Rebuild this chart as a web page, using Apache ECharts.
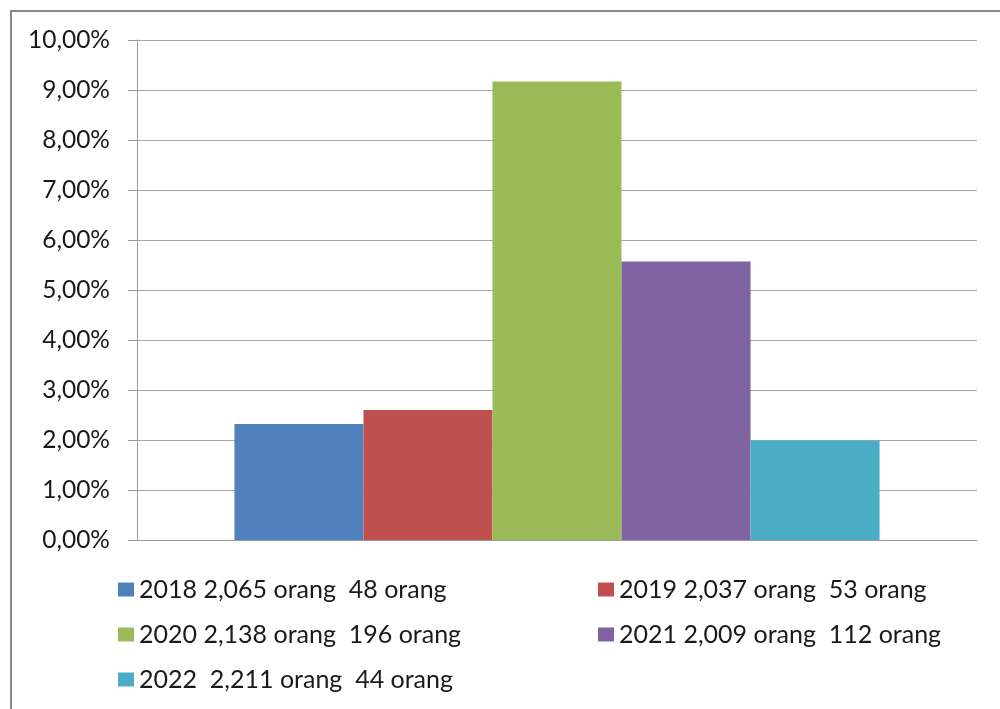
<!DOCTYPE html>
<html>
<head>
<meta charset="utf-8">
<script src="https://cdn.jsdelivr.net/npm/echarts@6/dist/echarts.min.js"></script>
<style>
  html, body { margin: 0; padding: 0; background: #fff; }
  #chart { width: 1000px; height: 709px; }
</style>
</head>
<body>
<div id="chart"></div>
<script>
// Share of people per year (percent), one bar per year
const seriesNames = [
  '2018 2,065 orang  48 orang',
  '2019 2,037 orang  53 orang',
  '2020 2,138 orang  196 orang',
  '2021 2,009 orang  112 orang',
  '2022  2,211 orang  44 orang'
];
const percentValues = [2.32, 2.60, 9.17, 5.57, 1.99];
const barColors = ['#4F81BD', '#C0504D', '#9BBB59', '#8064A2', '#4BACC6'];
const categories = [''];

const FONT = 'Lato, "Open Sans", sans-serif';
const chart = echarts.init(document.getElementById('chart'), null, { renderer: 'canvas' });

const series = seriesNames.map((name, i) => ({
  name: name,
  type: 'bar',
  data: [percentValues[i]],
  barGap: '0%',
  barCategoryGap: '23.2%',
  itemStyle: { color: barColors[i] },
  emphasis: { disabled: true }
}));

const legendText = { fontFamily: FONT, fontSize: 25, color: '#1a1a1a', lineHeight: 25 };

chart.setOption({
  animation: false,
  backgroundColor: '#fff',
  color: barColors,
  graphic: [{
    type: 'rect',
    shape: { x: 11, y: 11, width: 1010, height: 720 },
    style: { fill: 'none', stroke: '#8a8a8a', lineWidth: 2 },
    silent: true
  }],
  grid: { left: 137, right: 23, top: 40, bottom: 169, containLabel: false },
  xAxis: {
    type: 'category',
    data: categories,
    axisLine: { show: true, lineStyle: { color: '#9a9a9a', width: 1 } },
    axisTick: { show: false },
    axisLabel: { show: false },
    splitLine: { show: false }
  },
  yAxis: {
    type: 'value',
    min: 0,
    max: 10,
    interval: 1,
    axisLine: { show: true, lineStyle: { color: '#9a9a9a', width: 1 } },
    axisTick: { show: true, inside: false, length: 9, lineStyle: { color: '#9a9a9a' } },
    axisLabel: {
      margin: 27,
      fontFamily: FONT,
      fontSize: 24.5,
      color: '#1a1a1a',
      formatter: v => v.toFixed(2).replace('.', ',') + '%'
    },
    splitLine: { show: true, lineStyle: { color: '#a6a6a6', width: 1 } }
  },
  legend: [
    {
      left: 113, top: 572, orient: 'vertical', itemGap: 20,
      itemWidth: 16, itemHeight: 14, icon: 'rect',
      data: [seriesNames[0], seriesNames[2], seriesNames[4]],
      textStyle: legendText, selectedMode: false
    },
    {
      left: 593, top: 572, orient: 'vertical', itemGap: 20,
      itemWidth: 16, itemHeight: 14, icon: 'rect',
      data: [seriesNames[1], seriesNames[3]],
      textStyle: legendText, selectedMode: false
    }
  ],
  series: series
});
</script>
</body>
</html>
